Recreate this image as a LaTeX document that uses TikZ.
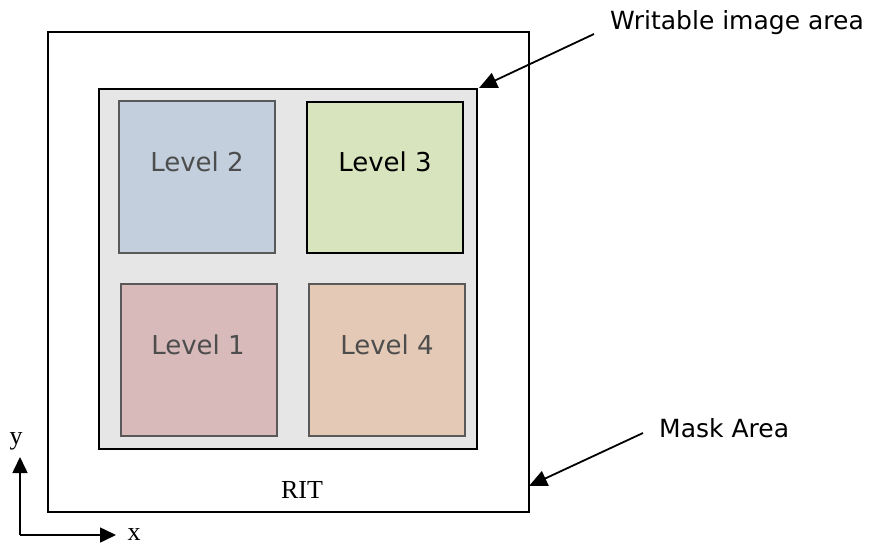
\documentclass[tikz,border=0pt]{standalone}
\usepackage{fontspec}
\setmainfont{Liberation Serif}
\newfontfamily\vfont{DejaVu Sans}
\usetikzlibrary{arrows.meta}
\definecolor{lvtwo}{HTML}{C3CFDD}
\definecolor{lvthree}{HTML}{D8E4BE}
\definecolor{lvone}{HTML}{D8BABB}
\definecolor{lvfour}{HTML}{E4CAB6}
\definecolor{wgray}{HTML}{E6E6E6}
\definecolor{bgray}{HTML}{595959}
\definecolor{tgray}{HTML}{4D4D4D}
\begin{document}
\begin{tikzpicture}[x=1pt,y=-1pt,
  lvbox/.style={draw=bgray,line width=2pt},
  lvtext/.style={font=\vfont\fontsize{26}{30}\selectfont,text=tgray},
  lbl/.style={font=\vfont\fontsize{25}{30}\selectfont,anchor=west,inner sep=0pt},
  ser/.style={font=\fontsize{26}{28}\selectfont,inner sep=0pt},
  arr/.style={line width=1.8pt,-{Triangle[length=18pt,width=16pt]}},
  axarr/.style={line width=1.6pt,-{Triangle[length=16pt,width=15pt]}}]
\useasboundingbox (0,0) rectangle (880,543);
% outer mask box
\draw[line width=2pt] (48,32) rectangle (529,512);
\coordinate (maskR) at (529,486);
% writable area
\draw[line width=2pt,fill=wgray] (99,89) rectangle (477,449);
\coordinate (wrTR) at (479,88);
% levels
\draw[lvbox,fill=lvtwo] (119,101) rectangle (275,253);
\draw[line width=2pt,fill=lvthree] (307,102) rectangle (463,253);
\draw[lvbox,fill=lvone] (121,284) rectangle (277,436);
\draw[lvbox,fill=lvfour] (309,284) rectangle (465,436);
\node[lvtext] (l2) at (197,162) {Level 2};
\node[lvtext,text=black] (l3) at (385,162) {Level 3};
\node[lvtext] (l1) at (198,345) {Level 1};
\node[lvtext] (l4) at (387,345) {Level 4};
% labels
\node[lbl] (wl) at (610,23) {Writable image area};
\node[lbl] (ml) at (659,428) {Mask Area};
\coordinate (wa) at (594,34);
\coordinate (ma) at (643,433);
\draw[arr] (wa) -- (wrTR);
\draw[arr] (ma) -- (maskR);
\node[ser] (rit) at (302,490) {RIT};
% axes
\coordinate (o) at (20,535);
\coordinate (ye) at (20,457);
\coordinate (xe) at (116,535);
\draw[axarr] (o) -- (ye);
\draw[axarr] (o) -- (xe);
\node[ser,anchor=base] (yl) at (16,444) {y};
\node[ser,anchor=base,text height=12pt,text depth=0pt] (xl) at (134,540) {x};
\end{tikzpicture}
\end{document}
